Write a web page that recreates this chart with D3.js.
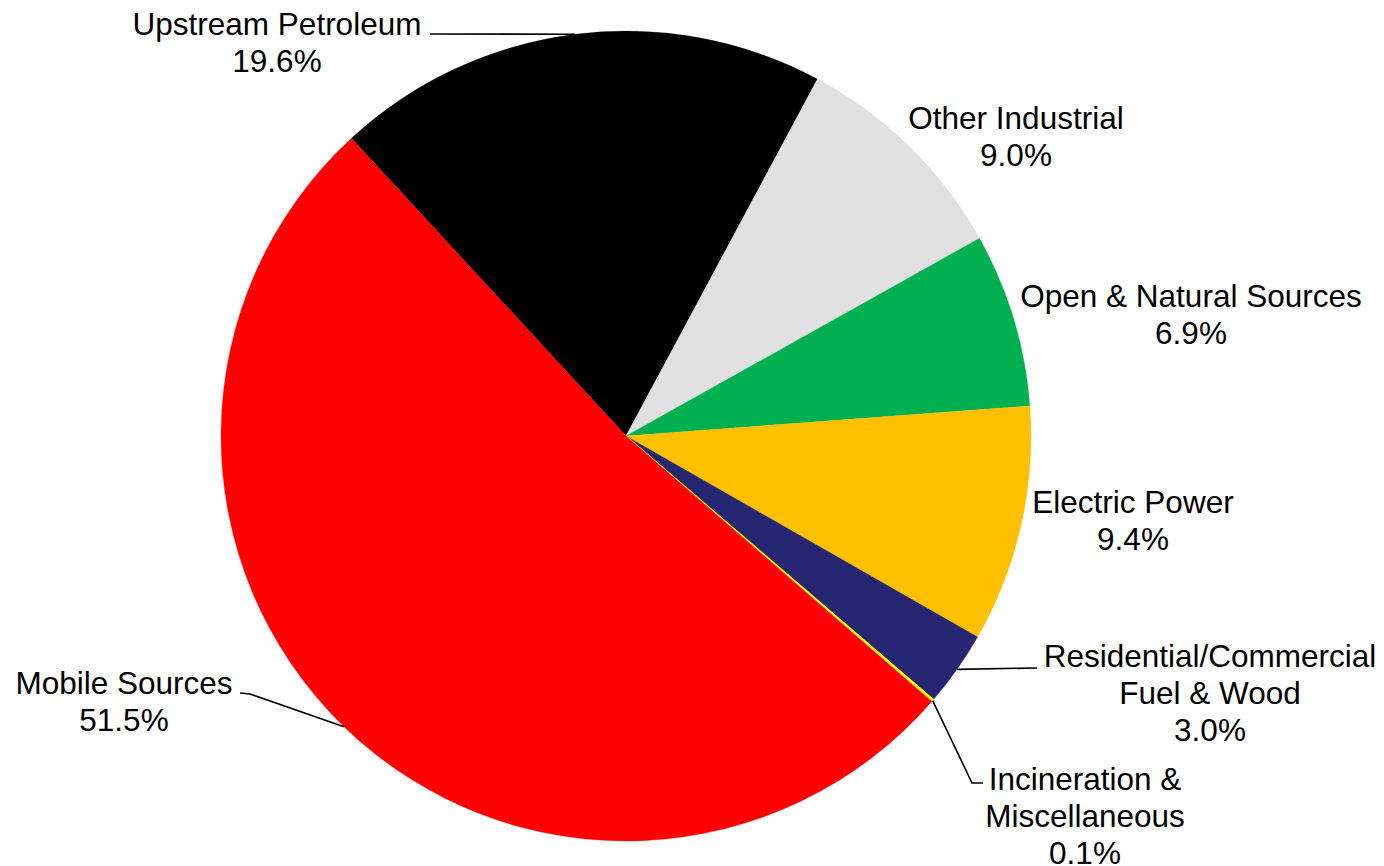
<!DOCTYPE html>
<html>
<head>
<meta charset="utf-8">
<script src="https://cdn.jsdelivr.net/npm/d3@7"></script>
<style>
  html, body { margin: 0; padding: 0; background: #ffffff; }
  svg { display: block; }
  text { font-family: "Liberation Sans", Arial, sans-serif; fill: #000; }
</style>
</head>
<body>
<script>
// Emission source categories, in clockwise order
const categories = [
  "Upstream Petroleum",
  "Other Industrial",
  "Open & Natural Sources",
  "Electric Power",
  "Residential/Commercial Fuel & Wood",
  "Incineration & Miscellaneous",
  "Mobile Sources"
];
// Share of total emissions (%)
const shares = [19.6, 9.0, 6.9, 9.4, 3.0, 0.1, 51.5];
// Label lines as printed next to each slice
const labelLines = [
  ["Upstream Petroleum", "19.6%"],
  ["Other Industrial", "9.0%"],
  ["Open & Natural Sources", "6.9%"],
  ["Electric Power", "9.4%"],
  ["Residential/Commercial", "Fuel & Wood", "3.0%"],
  ["Incineration &", "Miscellaneous", "0.1%"],
  ["Mobile Sources", "51.5%"]
];
const sliceColors = ["#000000", "#e0e0e0", "#00b050", "#ffc000", "#262673", "#ffff00", "#ff0000"];

const W = 1384, H = 866;
const cx = 626, cy = 436, R = 405;
const fontSize = 31.5, lineGap = 36.8;

// label placement: centre x, first baseline y, and leader elbow (if any)
const labelLayout = [
  { x: 277,  y: 35,  leader: { from: [430, 34] } },
  { x: 1016, y: 129 },
  { x: 1191, y: 307 },
  { x: 1133, y: 513 },
  { x: 1210, y: 667, leader: { from: [1037, 668] } },
  { x: 1085, y: 790, leader: { from: [983, 783], elbow: [972, 783] } },
  { x: 124,  y: 694, leader: { from: [240, 693], elbow: [250, 694] } }
];

const svg = d3.select("body").append("svg")
  .attr("width", W).attr("height", H);

const data = categories.map((c, i) => ({ name: c, value: shares[i], i }));

const startDeg = -42.7;
const pie = d3.pie()
  .sort(null)
  .value(d => d.value)
  .startAngle(startDeg * Math.PI / 180)
  .endAngle((startDeg + 360) * Math.PI / 180);

const arcs = pie(data);
const arc = d3.arc().innerRadius(0).outerRadius(R);

const g = svg.append("g").attr("transform", `translate(${cx},${cy})`);

g.selectAll("path.slice")
  .data(arcs)
  .join("path")
  .attr("class", "slice")
  .attr("d", arc)
  .attr("fill", d => sliceColors[d.data.i])
  .attr("stroke", d => sliceColors[d.data.i])
  .attr("stroke-width", d => d.data.value < 0.5 ? 1.2 : 0.3);

// leader lines run from a label to the mid-angle point on the rim
const leaders = svg.append("g")
  .attr("fill", "none")
  .attr("stroke", "#000")
  .attr("stroke-width", 1.6);

arcs.forEach(a => {
  const lay = labelLayout[a.data.i];
  if (!lay.leader) return;
  const mid = (a.startAngle + a.endAngle) / 2;
  const rim = [cx + R * Math.sin(mid), cy - R * Math.cos(mid)];
  const pts = [lay.leader.from];
  if (lay.leader.elbow) pts.push(lay.leader.elbow);
  pts.push(rim);
  leaders.append("path").attr("d", d3.line()(pts));
});

// labels
const labels = svg.append("g")
  .attr("font-size", fontSize)
  .attr("text-anchor", "middle");

labelLayout.forEach((lay, i) => {
  const t = labels.append("text");
  labelLines[i].forEach((line, k) => {
    t.append("tspan")
      .attr("x", lay.x)
      .attr("y", lay.y + k * lineGap)
      .text(line);
  });
});
</script>
</body>
</html>
